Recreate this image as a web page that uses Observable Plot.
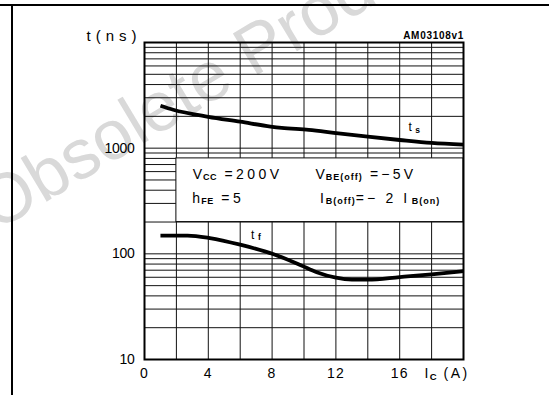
<!DOCTYPE html>
<html>
<head>
<meta charset="utf-8">
<script src="https://cdn.jsdelivr.net/npm/d3@7"></script>
<script src="https://cdn.jsdelivr.net/npm/@observablehq/plot@0.6"></script>
<style>
  html, body { margin: 0; padding: 0; background: #fff; }
  #wrap { position: relative; width: 549px; height: 395px; overflow: hidden; }
  #wrap > svg { position: absolute; left: 0; top: 0; }
  .frameTop { position: absolute; left: 0; top: 4px; width: 549px; height: 2px; background: #000; }
  .frameLeft { position: absolute; left: 11px; top: 4px; width: 2px; height: 391px; background: #000; }
</style>
</head>
<body>
<div id="wrap">
  <svg id="wm" width="549" height="395">
    <text x="-4" y="232" transform="rotate(-31 -4 232)" font-size="70"
          font-family="Liberation Sans, Arial, sans-serif" fill="#d9d9d9">Obsolete Product(s)</text>
  </svg>
  <div class="frameTop"></div>
  <div class="frameLeft"></div>
</div>
<script>
// ---- data ----
const xGrid = [0, 2, 4, 6, 8, 10, 12, 14, 16, 18, 20];
const yGrid = [10, 20, 30, 40, 50, 60, 70, 80, 90,
               100, 200, 300, 400, 500, 600, 700, 800, 900,
               1000, 2000, 3000, 4000, 5000, 6000, 7000, 8000, 9000, 10000];
const xTicks = [0, 4, 8, 12, 16];
const yTicks = [10, 100, 1000];

// storage time t_s (ns) vs Ic (A)
const tsX = [1, 1.8, 4, 6, 7.9, 8.6, 10.3, 12, 14, 16, 18, 20];
const tsY = [2520, 2310, 1980, 1780, 1600, 1555, 1490, 1390, 1285, 1195, 1120, 1080];
// fall time t_f (ns) vs Ic (A)
const tfX = [1, 2.7, 4.1, 6, 8.1, 9.8, 10.8, 12, 13, 14, 16, 18, 20];
const tfY = [149, 149, 141, 122, 99, 78, 67, 59.4, 57, 57, 60.3, 64, 68.7];

// test-condition box
const condBox = [{x1: 2, x2: 20, y1: 200, y2: 800}];

// text labels (rich: _{...} = subscript)
const labels = [
  {text: "V_{CC} =200V", x: 3.02, y: 512, size: 14, ls: 3.4, subSize: 9, subLs: 0.6, subDy: 1, subDx: 0.5, anchor: "start"},
  {text: "h_{FE} =5", x: 3.0, y: 301, size: 14, ls: 3.6, subSize: 9, subLs: 0.6, subDy: 1, subDx: 0.5, anchor: "start"},
  {text: "V_{BE(off)} =\u22125V", x: 10.72, y: 512, size: 14, ls: 3.2, subSize: 9, subLs: 1.0, subDy: 1, subDx: 0.5, anchor: "start"},
  {text: "I_{B(off)}=\u2212 2 I_{B(on)}", x: 11.0, y: 301, size: 14, ls: 3.1, subSize: 9, subLs: 1.0, subDy: 1, subDx: 1.5, anchor: "start"},
  {text: "t_{s}", x: 16.55, y: 1462, size: 12, ls: 0, subSize: 8.5, subLs: 0, subDy: 2, subDx: 3, anchor: "start"},
  {text: "t_{f}", x: 6.68, y: 139, size: 12, ls: 0, subSize: 8.5, subLs: 0, subDy: 1, subDx: 3, anchor: "start"},
  {text: "I_{C} (A)", x: 17.55, y: 10, size: 14, ls: 2.5, subSize: 9.5, subLs: 0.5, subDy: 2, subDx: 1, anchor: "start", dy: 18.7},
  {text: "t(ns)", x: 0, y: 10000, size: 15, ls: 5, anchor: "end", dx: -3, dy: -2},
  {text: "AM03108v1", x: 20, y: 10000, size: 10, ls: 0.7, anchor: "end", dx: 0.5, dy: -3.4, weight: "bold"}
];

const plain = s => s.replace(/_\{([^}]*)\}/g, "$1");
const ts = tsX.map((x, i) => ({x, y: tsY[i]}));
const tf = tfX.map((x, i) => ({x, y: tfY[i]}));

const chart = Plot.plot({
  width: 549,
  height: 395,
  marginLeft: 144,
  marginRight: 86,
  marginTop: 42,
  marginBottom: 36,
  style: {background: "transparent", fontFamily: "Liberation Sans, Arial, sans-serif", fontSize: "14px", color: "#000"},
  x: {domain: [0, 20], label: null},
  y: {type: "log", domain: [10, 10000], label: null},
  marks: [
    Plot.ruleX(xGrid, {stroke: "#111", strokeWidth: 1}),
    Plot.ruleY(yGrid, {stroke: "#111", strokeWidth: 1}),
    Plot.rect(condBox, {x1: "x1", x2: "x2", y1: "y1", y2: "y2", fill: "white", stroke: "#111", strokeWidth: 1}),
    Plot.frame({stroke: "#000", strokeWidth: 2}),
    Plot.line(ts, {x: "x", y: "y", stroke: "#000", strokeWidth: 3.8, curve: "monotone-x", strokeLinecap: "butt"}),
    Plot.line(tf, {x: "x", y: "y", stroke: "#000", strokeWidth: 3.8, curve: "monotone-x", strokeLinecap: "butt"}),
    Plot.axisX(xTicks, {tickSize: 0, tickPadding: 9, tickFormat: d => String(d)}),
    Plot.axisY(yTicks, {tickSize: 0, tickPadding: 10, tickFormat: d => String(d)}),
    ...labels.map(l => Plot.text([l], {
      x: "x", y: "y", text: d => plain(d.text),
      textAnchor: l.anchor, lineAnchor: "bottom", fontSize: l.size,
      fontWeight: l.weight || "normal", dx: l.dx || 0, dy: l.dy || 0,
      fill: "#000"
    }))
  ]
});

document.getElementById("wrap").appendChild(chart);

// rich text: subscripts and letter spacing
const NS = "http://www.w3.org/2000/svg";
const allTexts = Array.from(chart.querySelectorAll("text"));
labels.forEach(l => {
  const el = allTexts.find(t => t.textContent === plain(l.text) && !t.dataset.done);
  if (!el) return;
  el.dataset.done = "1";
  el.textContent = "";
  const re = /_\{([^}]*)\}/g;
  const segs = [];
  let last = 0, m;
  while ((m = re.exec(l.text))) {
    if (m.index > last) segs.push({t: l.text.slice(last, m.index), sub: false});
    segs.push({t: m[1], sub: true});
    last = re.lastIndex;
  }
  if (last < l.text.length) segs.push({t: l.text.slice(last), sub: false});
  let pending = 0;
  segs.forEach((s, k) => {
    const span = document.createElementNS(NS, "tspan");
    span.textContent = s.t;
    if (s.sub) {
      span.setAttribute("font-size", l.subSize);
      span.setAttribute("font-weight", "bold");
      span.setAttribute("dy", l.subDy);
      span.setAttribute("dx", l.subDx || 0);
      span.style.letterSpacing = (l.subLs || 0) + "px";
      pending = -l.subDy;
    } else {
      if (pending) { span.setAttribute("dy", pending); pending = 0; }
      const first = k === 0 && segs.length > 1;
      span.style.letterSpacing = (first ? 0.5 : l.ls) + "px";
    }
    el.appendChild(span);
  });
});

chart.querySelectorAll('g[aria-label="y-axis tick label"] text').forEach(t => {
  t.style.fontFamily = "Liberation Sans Narrow, Liberation Sans, Arial, sans-serif";
  t.style.letterSpacing = "-0.3px";
});
chart.querySelectorAll('g[aria-label="x-axis tick label"] text').forEach(t => {
  t.style.letterSpacing = "1.2px";
});
</script>
</body>
</html>
